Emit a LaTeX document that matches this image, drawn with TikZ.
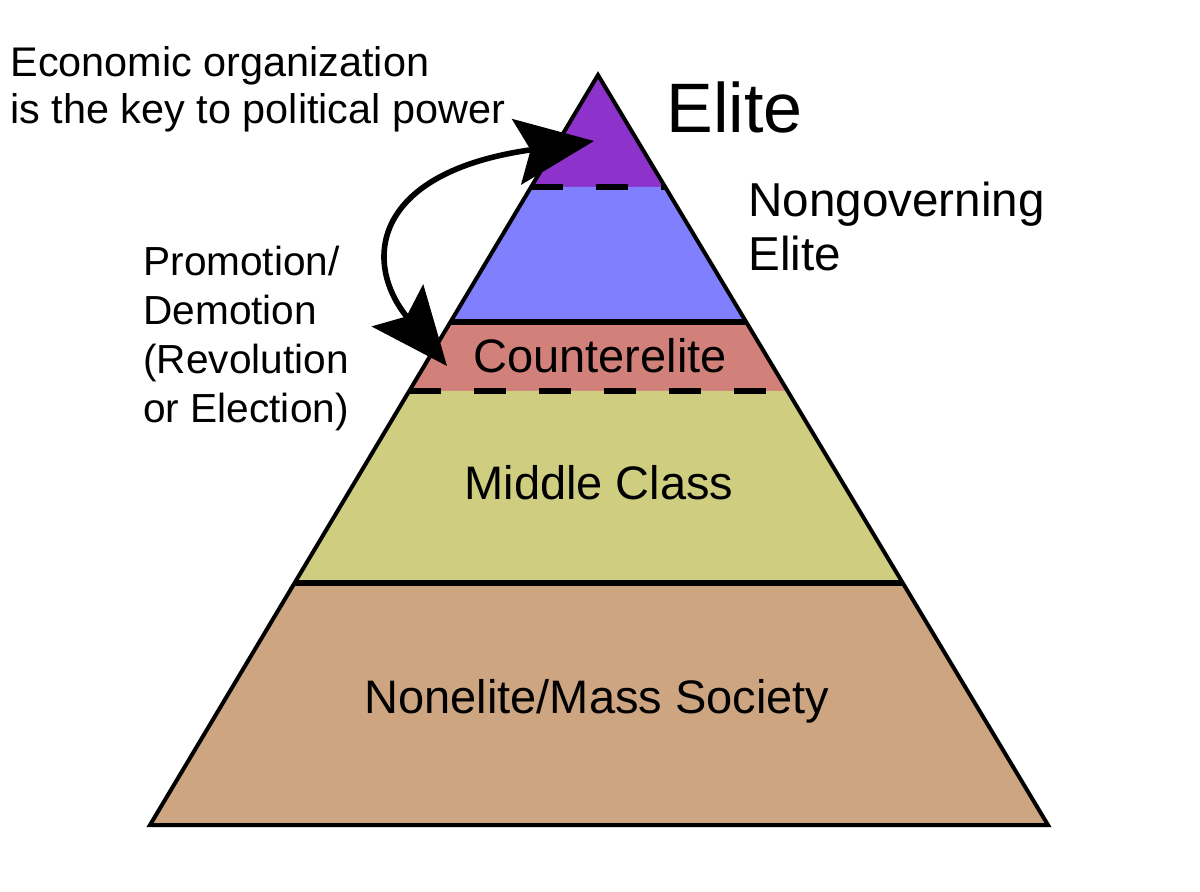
\documentclass[tikz,border=0pt]{standalone}
\usepackage{fontspec}
\setmainfont{Liberation Sans}
\usepackage{xcolor}
\usetikzlibrary{calc, arrows.meta}

\definecolor{eliteC}{RGB}{142,50,204}
\definecolor{nongovC}{RGB}{128,128,255}
\definecolor{counterC}{RGB}{209,128,122}
\definecolor{middleC}{RGB}{207,206,128}
\definecolor{massC}{RGB}{205,165,128}

\tikzset{
	layer line/.style = {line width = 3pt},
	layer dash/.style = {line width = 3pt, dash pattern = on 16pt off 16.5pt},
	layer text/.style = {anchor = base, inner sep = 0, font = \fontsize{23.5}{27}\selectfont},
	side text/.style = {anchor = base west, inner sep = 0, align = left},
	bigtip/.tip = {Stealth[length = 39pt, width = 33pt, inset = 7pt]}
}

\begin{document}
\begin{tikzpicture}[x = 0.5pt, y = -0.5pt]
			\useasboundingbox (0,0) rectangle (1200,891);
			
			\coordinate (apex) at (598,75);
			\coordinate (bl) at (150,825);
			\coordinate (br) at (1048,825);
			
			% level lines, as parts of the sides
			\foreach \n/\t in {1/0.1493, 2/0.3293, 3/0.4213, 4/0.6773}{
				\coordinate (l\n) at ($(apex)!\t!(bl)$);
				\coordinate (r\n) at ($(apex)!\t!(br)$);
			}
			
			\fill [eliteC] (apex) -- (r1) -- (l1) -- cycle;
			\fill [nongovC] (l1) -- (r1) -- (r2) -- (l2) -- cycle;
			\fill [counterC] (l2) -- (r2) -- (r3) -- (l3) -- cycle;
			\fill [middleC] (l3) -- (r3) -- (r4) -- (l4) -- cycle;
			\fill [massC] (l4) -- (r4) -- (br) -- (bl) -- cycle;
			
			\draw [layer dash] (l1) -- (r1);
			\draw [layer line] (l2) -- (r2);
			\draw [layer dash] (l3) -- (r3);
			\draw [layer line] (l4) -- (r4);
			
			\draw [line width = 2pt, line join = miter] (apex) -- (br) -- (bl) -- cycle;
			
			\node [layer text] (counterelite) at (600,372) {Counterelite};
			\node [layer text] (middle) at (599,499) {Middle Class};
			\node [layer text] (mass) at (597,713) {Nonelite/Mass Society};
			
			% base of a node with several lines = its last line
			\node [side text, font = \fontsize{35}{40}\selectfont] (elite) at (666,132) {Elite};
			\node [side text, font = \fontsize{23.8}{27}\selectfont] (nongov) at (748,270) {Nongoverning\\Elite};
			\node [side text, font = \fontsize{20.7}{23.5}\selectfont] (econ) at (10,123) {Economic organization\\is the key to political power};
			\node [side text, font = \fontsize{20.3}{24.5}\selectfont] (promo) at (143,422) {Promotion/\\Demotion\\(Revolution\\or Election)};
			
			\coordinate (demoTip) at (447,366);
			\coordinate (promoTip) at (594,141);
			\draw [line width = 2.8pt, bigtip-bigtip] (demoTip) .. controls (362,262) and (372,172) .. (promoTip);
		\end{tikzpicture}
\end{document}
